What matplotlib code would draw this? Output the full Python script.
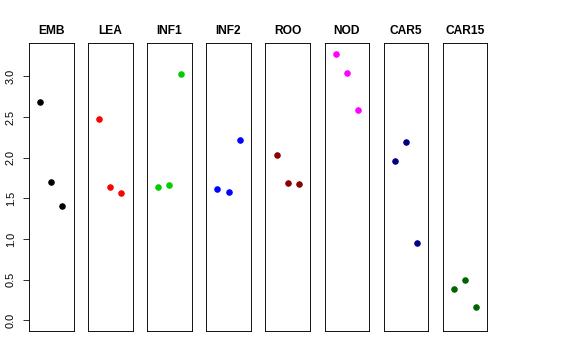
import matplotlib
matplotlib.use("Agg")
import matplotlib.pyplot as plt

plt.rcParams['font.family'] = ['Liberation Sans', 'DejaVu Sans']

# tissues, one panel each
tissues = ['EMB', 'LEA', 'INF1', 'INF2', 'ROO', 'NOD', 'CAR5', 'CAR15']
colors = ['black', 'red', '#00CD00', 'blue', '#8B0000', 'magenta', '#000080', '#006400']

# three values per tissue, plotted at x = 1, 2, 3
positions = [1, 2, 3]
values = [
    [2.69, 1.70, 1.41],
    [2.48, 1.64, 1.57],
    [1.64, 1.66, 3.03],
    [1.62, 1.58, 2.22],
    [2.03, 1.69, 1.68],
    [3.28, 3.04, 2.59],
    [1.96, 2.19, 0.95],
    [0.38, 0.50, 0.16],
]
yticks = [0.0, 0.5, 1.0, 1.5, 2.0, 2.5, 3.0]

fig = plt.figure(figsize=(8, 5), dpi=72)
W, H = 576, 360
ymax = max(max(v) for v in values)
pad = ymax * 0.04

for i, (name, col, vals) in enumerate(zip(tissues, colors, values)):
    left = 29 + 59.1 * i
    ax = fig.add_axes([left / W, 29 / H, 44.5 / W, 288 / H])
    ax.plot(positions, vals, 'o', color=col, markersize=5.5)
    ax.set_xlim(0, 4)
    ax.set_ylim(-pad, ymax + pad)
    ax.set_xticks([])
    ax.set_title(name, fontsize=12, fontweight='bold', pad=9)
    for s in ax.spines.values():
        s.set_linewidth(0.9)
    if i == 0:
        ax.set_yticks(yticks)
        ax.set_yticklabels([f"{t:.1f}" for t in yticks], rotation=90, va='center', fontsize=11)
        ax.tick_params(axis='y', length=6, width=0.8, pad=7)
    else:
        ax.set_yticks([])

fig.savefig("out.png", dpi=72)
